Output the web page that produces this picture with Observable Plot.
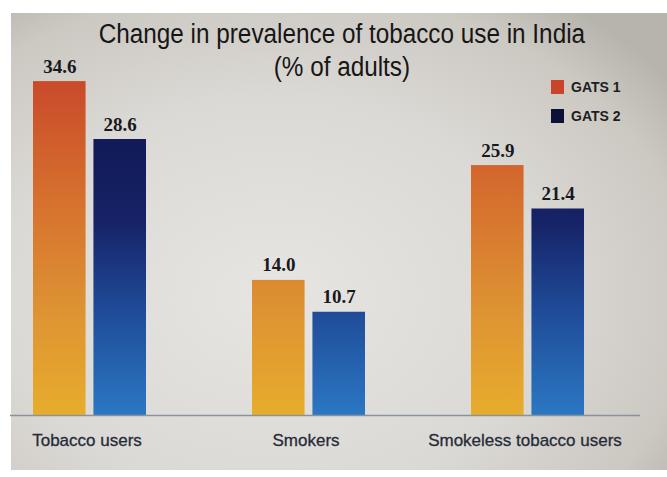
<!DOCTYPE html>
<html>
<head>
<meta charset="utf-8">
<script src="https://cdn.jsdelivr.net/npm/d3@7"></script>
<script src="https://cdn.jsdelivr.net/npm/@observablehq/plot@0.6"></script>
<style>
  html, body { margin: 0; padding: 0; background: #ffffff; }
  #wrap { position: relative; width: 667px; height: 477px; overflow: hidden; }
  #bg { position: absolute; left: 11px; top: 13px; width: 656px; height: 457px;
        background: radial-gradient(ellipse 75% 80% at 40% 62%, #e6e5e2 0%, #dbd9d5 55%, #ccc8c2 85%, #b7b3ad 100%); }
  #chart { position: absolute; left: 0; top: 0; }
  .title { position: absolute; left: 0; width: 684px; text-align: center; transform: scaleX(0.9); transform-origin: 341px 0;
           font-family: "Liberation Sans", Arial, sans-serif; font-size: 27px; color: #161616; }
  #legend { position: absolute; left: 551px; top: 79px; font-family: "Liberation Sans", Arial, sans-serif;
            font-weight: bold; font-size: 14px; color: #1c1e22; }
  .item { display: flex; align-items: center; height: 15px; margin-bottom: 14px; }
  .sw { width: 13px; height: 14px; margin-right: 7px; }
</style>
</head>
<body>
<div id="wrap">
  <div id="bg"></div>
  <div id="chart"></div>
  <div class="title" style="top:19px">Change in prevalence of tobacco use in India</div>
  <div class="title" style="top:52px">(% of adults)</div>
  <div id="legend"></div>
</div>
<script>
const categories = ["Tobacco users", "Smokers", "Smokeless tobacco users"];
const gats1 = [34.6, 14.0, 25.9];
const gats2 = [28.6, 10.7, 21.4];
const seriesNames = ["GATS 1", "GATS 2"];
const legendColors = ["#c8452c", "#0c1236"];

const rows1 = categories.map((c, i) => ({category: c, series: seriesNames[0], value: gats1[i]}));
const rows2 = categories.map((c, i) => ({category: c, series: seriesNames[1], value: gats2[i]}));

const W = 667, H = 477;
const marginLeft = 10, marginRight = 27, marginTop = 29, marginBottom = 62;
const paddingInner = 0.486, paddingOuter = 0.1775;
const step = (W - marginLeft - marginRight) / (categories.length - paddingInner + 2 * paddingOuter);
const bw = step * (1 - paddingInner);
const gap = 8;
const barW = (bw - gap) / 2;
const inset = bw - barW;
const shift = bw / 2 - barW / 2;
const fmt = d3.format(".1f");

const plot = Plot.plot({
  width: W,
  height: H,
  marginLeft, marginRight, marginTop, marginBottom,
  style: {background: "transparent", overflow: "visible"},
  x: {domain: categories, paddingInner, paddingOuter, align: 0.288, axis: null},
  y: {domain: [0, 40], axis: null},
  color: {domain: seriesNames, range: ["url(#gradG1)", "url(#gradG2)"]},
  marks: [
    Plot.barY(rows1, {x: "category", y: "value", fill: "series", insetRight: inset}),
    Plot.barY(rows2, {x: "category", y: "value", fill: "series", insetLeft: inset}),
    Plot.ruleY([0], {stroke: "#8a929c", strokeWidth: 1.5}),
    Plot.text(rows1, {x: "category", y: "value", text: d => fmt(d.value), dx: -shift, dy: -9, lineAnchor: "bottom",
      fontFamily: "Liberation Serif", fontWeight: "bold", fontSize: 19, fill: "#18191d"}),
    Plot.text(rows2, {x: "category", y: "value", text: d => fmt(d.value), dx: shift, dy: -9, lineAnchor: "bottom",
      fontFamily: "Liberation Serif", fontWeight: "bold", fontSize: 19, fill: "#18191d"}),
    Plot.text(categories, {x: d => d, y: () => 0, text: d => d, dy: 25, dx: -3,
      fontFamily: "Liberation Sans", fontSize: 17, fill: "#262b38", stroke: "#262b38", strokeWidth: 0.3})
  ]
});

// gradients in chart space, located through the y scale
const ys = plot.scale("y");
const yLin = d3.scaleLinear(ys.domain, ys.range);
const svg = d3.select(plot);
const defs = svg.insert("defs", ":first-child");
const g1 = defs.append("linearGradient").attr("id", "gradG1").attr("gradientUnits", "userSpaceOnUse")
  .attr("x1", 0).attr("x2", 0).attr("y1", yLin(d3.max(gats1))).attr("y2", yLin(0));
[[0, "#c94a2a"], [0.35, "#d6702e"], [0.7, "#de9433"], [1, "#e7ad2c"]].forEach(([o, c]) =>
  g1.append("stop").attr("offset", o).attr("stop-color", c));
const g2 = defs.append("linearGradient").attr("id", "gradG2").attr("gradientUnits", "userSpaceOnUse")
  .attr("x1", 0).attr("x2", 0).attr("y1", yLin(d3.max(gats2))).attr("y2", yLin(0));
[[0, "#121a58"], [0.3, "#162366"], [0.62, "#1f4b98"], [1, "#2b77c3"]].forEach(([o, c]) =>
  g2.append("stop").attr("offset", o).attr("stop-color", c));

document.getElementById("chart").appendChild(plot);

const legend = d3.select("#legend");
seriesNames.forEach((s, i) => {
  const it = legend.append("div").attr("class", "item");
  it.append("div").attr("class", "sw").style("background", legendColors[i]);
  it.append("span").text(s);
});
</script>
</body>
</html>
